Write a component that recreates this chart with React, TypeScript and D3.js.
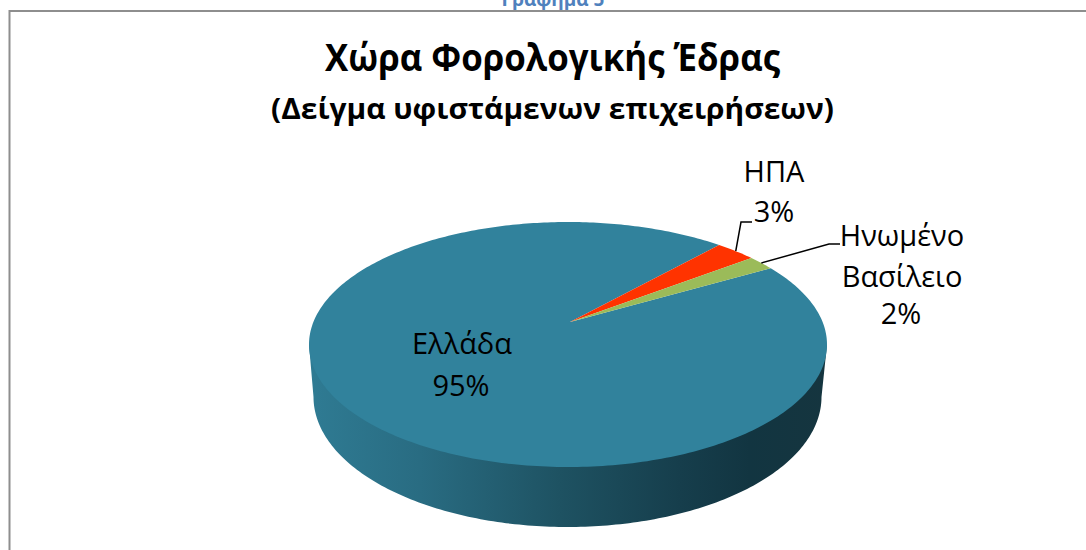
import React from "react";
import * as d3 from "d3";

const categories = ["Ελλάδα", "ΗΠΑ", "Ηνωμένο Βασίλειο"];
const shares = [95, 3, 2];
const shareLabels = ["95%", "3%", "2%"];
const sliceColors = ["#31829c", "#ff3300", "#9bbb59"];
const sideStops = [
  { x: 310, c: "#2f7b93" },
  { x: 420, c: "#296c82" },
  { x: 560, c: "#1e5262" },
  { x: 680, c: "#163e4c" },
  { x: 750, c: "#123541" },
  { x: 825, c: "#15353f" },
];

const W = 1086, H = 550;
const top = { cx: 568, cy: 344.5, rx: 259, ry: 122.5 };
const bottom = { cx: 567.5, cy: 397, rx: 254, ry: 130 };
const apex = { x: 570, y: 322 };
const FONT = "'Open Sans', 'Noto Sans', sans-serif";
const pieStart = (60.5 * Math.PI) / 180;

// Slice angle -> rim point: a ray from the (perspective-shifted) apex through the unit-circle ellipse.
function rim(a: number): [number, number] {
  const ax = (apex.x - top.cx) / top.rx;
  const ay = (top.cy - apex.y) / top.ry;
  const dx = Math.sin(a), dy = Math.cos(a);
  const b = ax * dx + ay * dy;
  const c = ax * ax + ay * ay - 1;
  const t = -b + Math.sqrt(b * b - c);
  return [top.cx + (ax + t * dx) * top.rx, top.cy - (ay + t * dy) * top.ry];
}

export default function App() {
  // Greece starts after the UK slice and wraps round to the start of the USA slice.
  const arcs = d3
    .pie<number>()
    .sort(null)
    .startAngle(pieStart)
    .endAngle(pieStart + 2 * Math.PI)(shares);

  const line = d3.line();
  const slicePath = (a0: number, a1: number) => {
    const n = Math.max(4, Math.ceil((a1 - a0) * 60));
    const pts = d3.range(n + 1).map((k) => rim(a0 + ((a1 - a0) * k) / n));
    return line([[apex.x, apex.y], ...pts]) + "Z";
  };

  const stopScale = d3.scaleLinear().domain([310, 825]).range([0, 100]);
  const bottomRim = d3.range(0, 181).map((k) => {
    const t = (k * Math.PI) / 180;
    return [bottom.cx + bottom.rx * Math.cos(t), bottom.cy + bottom.ry * Math.sin(t)] as [number, number];
  });
  const sidePath =
    line([[top.cx + top.rx, top.cy], ...bottomRim, [top.cx - top.rx, top.cy]]) + "Z";

  const usaMid = rim((arcs[1].startAngle + arcs[1].endAngle) / 2);
  const ukMid = rim((arcs[2].startAngle + arcs[2].endAngle) / 2);

  const labelStyle = { fontFamily: FONT, fontSize: 29, fill: "#000", textAnchor: "middle" as const };

  return (
    <svg width={W} height={H} style={{ position: "fixed", left: 0, top: 0, background: "#fff" }}>
      <defs>
        <linearGradient id="side" gradientUnits="userSpaceOnUse" x1={310} x2={825} y1={0} y2={0}>
          {sideStops.map((s) => (
            <stop key={s.x} offset={`${stopScale(s.x)}%`} stopColor={s.c} />
          ))}
        </linearGradient>
      </defs>

      <text x={553} y={6} textAnchor="middle" fontFamily={FONT} fontWeight={700} fontSize={19} fill="#4f81bd">
        Γράφημα 5
      </text>
      <path d={`M9.5,${H}V11H${W}`} fill="none" stroke="#8e8e8e" strokeWidth={2} />

      <text x={552.5} y={71} textAnchor="middle" fontFamily={FONT} fontWeight={700} fontSize={37} fill="#000"
        textLength={455} lengthAdjust="spacingAndGlyphs">
        Χώρα Φορολογικής Έδρας
      </text>
      <text x={552.5} y={119} textAnchor="middle" fontFamily={FONT} fontWeight={700} fontSize={29} fill="#000"
        textLength={563} lengthAdjust="spacingAndGlyphs">
        (Δείγμα υφιστάμενων επιχειρήσεων)
      </text>

      <path d={sidePath} fill="url(#side)" />
      {arcs.map((p, i) => (
        <path key={i} d={slicePath(p.startAngle, p.endAngle)} fill={sliceColors[i]} />
      ))}

      <path d={line([usaMid, [741, 222], [752, 222]]) as string} fill="none" stroke="#000" strokeWidth={1.5} />
      <path d={line([ukMid, [829, 244], [840, 244]]) as string} fill="none" stroke="#000" strokeWidth={1.5} />

      <text x={462} y={354} {...labelStyle}>{categories[0]}</text>
      <text x={461} y={396} {...labelStyle}>{shareLabels[0]}</text>
      <text x={774} y={182} {...labelStyle}>{categories[1]}</text>
      <text x={774} y={222} {...labelStyle}>{shareLabels[1]}</text>
      <text x={902} y={246} {...labelStyle}>{categories[2].split(" ")[0]}</text>
      <text x={902} y={287} {...labelStyle}>{categories[2].split(" ")[1]}</text>
      <text x={901} y={324} {...labelStyle}>{shareLabels[2]}</text>
    </svg>
  );
}
